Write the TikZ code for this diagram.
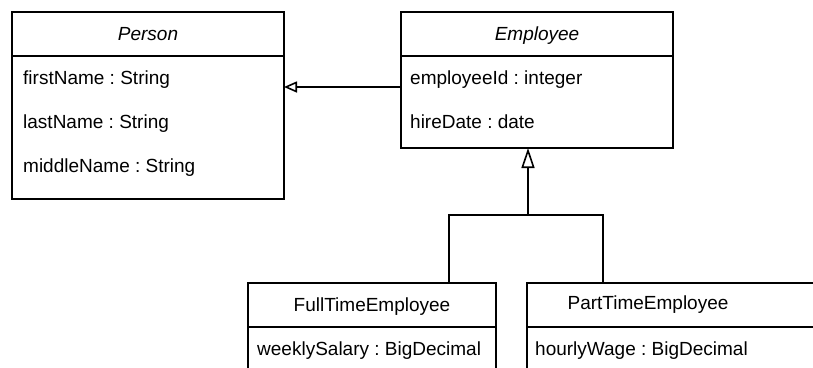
\documentclass[tikz,border=0pt]{standalone}
\usepackage{fontspec}
\setmainfont{Liberation Sans}
\usetikzlibrary{arrows.meta, positioning}
\frenchspacing

\begin{document}
\begin{tikzpicture}[
  x=1pt, y=-1pt,
  every node/.style={font=\fontsize{19}{23}\selectfont},
  box/.style={rectangle, draw, line width=1.3pt, outer sep=0pt, inner sep=0pt, minimum width=272pt},
  head/.style={box, minimum height=44pt, text depth=0pt},
  attr/.style={anchor=base west, inner sep=0pt},
  link/.style={line width=1.6pt},
  inherit/.style={link, -{Triangle[open, length=13pt, width=11pt]}},
  inheritbig/.style={link, -{Triangle[open, length=20pt, width=13pt]}}
]
\useasboundingbox (0,0) rectangle (813,367);
\clip (0,0) rectangle (813,367);

\def\rowstep{44pt} % distance between attribute rows

% Person
\node (person) [head, anchor=north west] at (12,12) {\itshape Person};
\node (personbody) [box, minimum height=143pt, below=0pt of person] {};
\node (firstname) [attr] at ([xshift=11pt, yshift=-28pt]personbody.north west) {firstName : String};
\node (lastname) [attr, below=\rowstep of firstname.base west, anchor=base west] {lastName : String};
\node (middlename) [attr, below=\rowstep of lastname.base west, anchor=base west] {middleName : String};

% Employee
\node (employee) [head, anchor=north west] at (401,12) {\itshape Employee};
\node (employeebody) [box, minimum height=92pt, below=0pt of employee] {};
\node (employeeid) [attr] at ([xshift=9pt, yshift=-28pt]employeebody.north west) {employeeId : integer};
\node (hiredate) [attr, below=\rowstep of employeeid.base west, anchor=base west] {hireDate : date};

% subclasses
\node (fulltime) [head, minimum width=248pt, anchor=north west] at (248,283) {FullTimeEmployee};
\node (fulltimebody) [box, minimum width=248pt, minimum height=80pt, below=0pt of fulltime] {};
\node (salary) [attr] at ([xshift=9pt, yshift=-28pt]fulltimebody.north west) {weeklySalary : BigDecimal};

\node (parttime) [head, minimum width=320pt, anchor=north west] at (527,283) {};
\node (parttimename) at ([xshift=121pt]parttime.west) {PartTimeEmployee};
\node (parttimebody) [box, minimum width=320pt, minimum height=80pt, below=0pt of parttime] {};
\node (wage) [attr] at ([xshift=8pt, yshift=-28pt]parttimebody.north west) {hourlyWage : BigDecimal};

% Generalisations
\draw[inherit] ([yshift=-24pt]employeebody.north west) |- ([yshift=-31pt]personbody.north east);

\coordinate (fork) at (528,215);
\draw[inheritbig] (fork) -- ([xshift=-9pt]employeebody.south);
\draw[link] ([xshift=201pt]fulltime.north west) |- (fork);
\draw[link] ([xshift=76pt]parttime.north west) |- (fork);

\end{tikzpicture}
\end{document}
